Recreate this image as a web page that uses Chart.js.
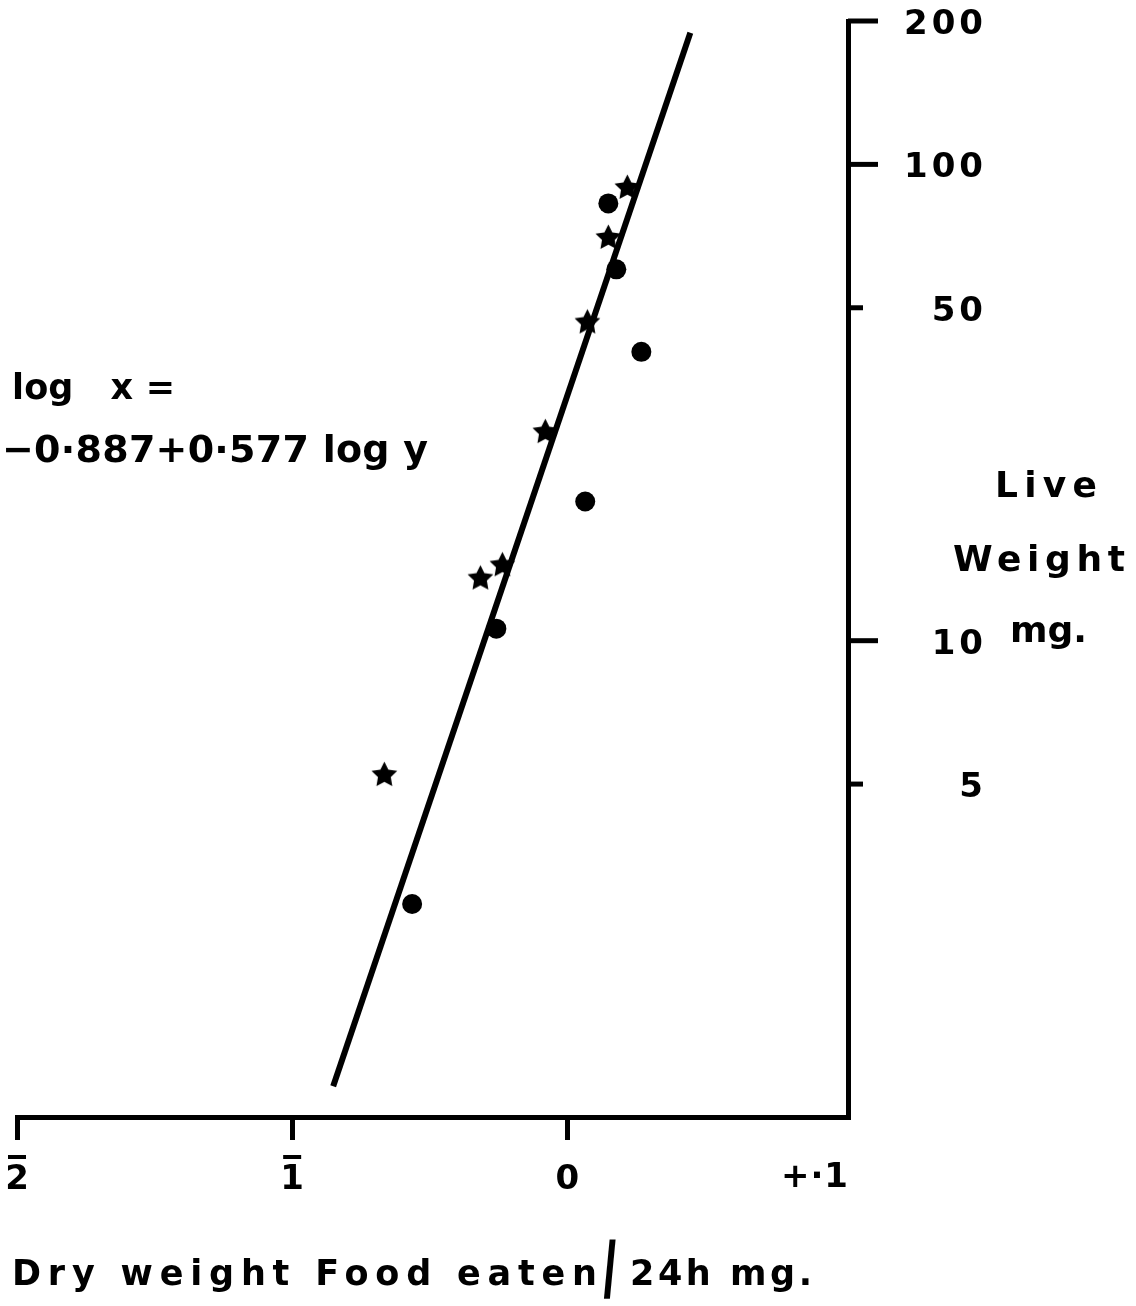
<!DOCTYPE html>
<html>
<head>
<meta charset="utf-8">
<title>Live weight vs dry weight food eaten</title>
<script src="https://cdn.jsdelivr.net/npm/chart.js@4"></script>
<style>
  html, body { margin: 0; padding: 0; background: #fff; }
  #wrap { position: relative; width: 1136px; height: 1306px; overflow: hidden; }
  #wrap canvas { position: absolute; left: 0; top: 0; }
  .txt { position: absolute; white-space: nowrap; color: #000; font-family: "DejaVu Sans", sans-serif; font-weight: bold; line-height: 1; }
  .slash { position: absolute; left: 601px; top: 1231px; font-family: "DejaVu Sans", sans-serif; font-size: 72px; line-height: 1; transform: skewX(12deg); transform-origin: 50% 75%; }
</style>
</head>
<body>
<div id="wrap">
  <canvas id="chart" width="1136" height="1306"></canvas>
  <div class="txt fit" data-w="163" style="left:12px; top:370px; font-size:35px;">log&nbsp;&nbsp;&nbsp;x&nbsp;=</div>
  <div class="txt fit" data-w="426" style="left:2px; top:430px; font-size:38px;">−0·887+0·577 log y</div>
  <div class="txt fit" data-w="102" style="left:995px; top:467px; font-size:36px;">Live</div>
  <div class="txt fit" data-w="172" style="left:953px; top:541px; font-size:36px;">Weight</div>
  <div class="txt fit" data-w="77" style="left:1010px; top:612px; font-size:36px;">mg.</div>
  <div class="txt fit" data-w="585" style="left:12px; top:1256px; font-size:35px;">Dry weight Food eaten</div>
  <div class="slash">/</div>
  <div class="txt fit" data-w="182" style="left:630px; top:1256px; font-size:35px;">24h mg.</div>
</div>
<script>
// log10 of dry weight food eaten per 24h (x) against live weight in mg (y, log axis)
const circleFood = [0.149, 0.178, 0.269, 0.065, -0.258, -0.564];
const circleLive = [82.8, 60.2, 40.4, 19.6, 10.6, 2.80];
const starFood = [0.218, 0.149, 0.073, -0.080, -0.236, -0.316, -0.665];
const starLive = [89.9, 70.6, 46.9, 27.6, 14.5, 13.6, 5.26];
// fitted line  log x = -0.887 + 0.577 log y, ends as drawn
const fitFood = [-0.851, 0.447];
const fitLive = [1.16, 189];

const xTickValues = [-2, -1, 0, 1];
const xTickLabels = ['2', '1', '0', '+·1'];
const yTickValues = [5, 10, 50, 100, 200];
const yTickLabels = ['5', '10', '50', '100', '200'];

const pts = (xs, ys) => xs.map((x, i) => ({ x, y: ys[i] }));

// filled five-point star used as point style
function makeStar(size) {
  const c = document.createElement('canvas');
  c.width = c.height = size;
  const g = c.getContext('2d');
  const R = size / 2, r = R * 0.5;
  g.beginPath();
  for (let i = 0; i < 10; i++) {
    const a = -Math.PI / 2 + i * Math.PI / 5;
    const rad = i % 2 ? r : R;
    g.lineTo(R + rad * Math.cos(a), R + rad * Math.sin(a) + 1.5);
  }
  g.closePath();
  g.fillStyle = '#000';
  g.fill();
  return c;
}

const LABEL_FONT = 'bold 34px "DejaVu Sans", sans-serif';
const LS = 4;

// tick labels, overbars and y tick marks drawn from the chart's own scales
const axisDecor = {
  id: 'axisDecor',
  afterDraw(chart) {
    const { ctx, scales: { x, y } } = chart;
    ctx.save();
    ctx.fillStyle = '#000';
    ctx.strokeStyle = '#000';
    ctx.font = LABEL_FONT;
    ctx.textBaseline = 'middle';

    // y ticks: long for 10/100/200, short for 5/50
    ctx.lineWidth = 5;
    yTickValues.forEach((v, i) => {
      const py = y.getPixelForValue(v);
      const len = String(v)[0] === '5' ? 15 : 30;
      ctx.beginPath();
      ctx.moveTo(y.left, py);
      ctx.lineTo(y.left + len, py);
      ctx.stroke();
      ctx.letterSpacing = LS + 'px';
      ctx.textAlign = 'right';
      ctx.fillText(yTickLabels[i], y.left + 135 + LS, py + 4);
    });

    // x labels
    xTickValues.forEach((v, i) => {
      const px = x.getPixelForValue(v);
      const ly = x.top + 63;
      if (i === xTickValues.length - 1) {
        ctx.letterSpacing = '1px';
        ctx.textAlign = 'right';
        ctx.fillText(xTickLabels[i], x.right + 1, ly - 2);
        return;
      }
      ctx.letterSpacing = '0px';
      ctx.textAlign = 'center';
      ctx.fillText(xTickLabels[i], px, ly);
      if (v < 0) ctx.fillRect(px - 9, x.top + 38, 18, 4);
    });
    ctx.restore();
  }
};

new Chart(document.getElementById('chart'), {
  type: 'scatter',
  data: {
    datasets: [
      {
        label: 'fit', data: pts(fitFood, fitLive), showLine: true,
        borderColor: '#000', borderWidth: 6, pointRadius: 0, order: 3,
      },
      {
        label: 'circles', data: pts(circleFood, circleLive),
        pointStyle: 'circle', pointRadius: 10, backgroundColor: '#000', borderWidth: 0, order: 1,
      },
      {
        label: 'stars', data: pts(starFood, starLive),
        pointStyle: makeStar(27), pointRadius: 10, order: 0,
      },
    ],
  },
  options: {
    responsive: false,
    animation: false,
    devicePixelRatio: 1,
    layout: { padding: { left: 17, top: 21, right: 0, bottom: 0 } },
    plugins: { legend: { display: false }, tooltip: { enabled: false } },
    scales: {
      x: {
        type: 'linear', position: 'bottom', min: -2, max: 1.02,
        afterBuildTicks: (s) => { s.ticks = xTickValues.map((v) => ({ value: v })); },
        afterFit: (s) => { s.height = 189; },
        ticks: { display: false },
        grid: {
          drawOnChartArea: false, drawTicks: true, tickLength: 23, lineWidth: 5,
          tickColor: (c) => (c.tick && c.tick.value === 1 ? 'rgba(0,0,0,0)' : '#000'),
        },
        border: { display: true, width: 5, color: '#000' },
      },
      y: {
        type: 'logarithmic', position: 'right', min: 1, max: 200,
        afterBuildTicks: (s) => { s.ticks = yTickValues.map((v) => ({ value: v })); },
        afterFit: (s) => { s.width = 288; },
        ticks: { display: false },
        grid: { drawOnChartArea: false, drawTicks: false, lineWidth: 5 },
        border: { display: true, width: 5, color: '#000' },
      },
    },
  },
  plugins: [axisDecor],
});

// spread overlay text to the widths it has in the figure
document.querySelectorAll('.fit').forEach((el) => {
  el.style.letterSpacing = '0px';
  const natural = el.getBoundingClientRect().width;
  const n = el.textContent.length;
  el.style.letterSpacing = Math.max(0, (+el.dataset.w - natural) / (n - 1)) + 'px';
});
</script>
</body>
</html>
